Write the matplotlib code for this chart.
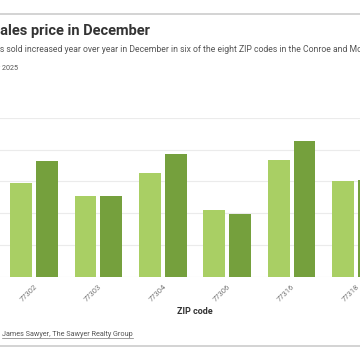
import matplotlib.pyplot as plt
from matplotlib.lines import Line2D
import numpy as np

# данные (медианная цена продажи, $)
zips = ["77302", "77303", "77304", "77306", "77316", "77318"]
price_2024 = [295000, 254000, 327000, 209000, 366000, 300000]
price_2025 = [365000, 253000, 387000, 198000, 428000, 305000]

light = "#a9cf64"
dark = "#75a03d"

plt.rcParams['font.family'] = ['Roboto', 'DejaVu Sans']

fig = plt.figure(figsize=(3.6, 3.6), dpi=100)
W, H = 360, 360

def fx(px):
    return px / W

def fy(py):
    return 1 - py / H

renderer = fig.canvas.get_renderer()

def text_width(s, **kw):
    """Ширина текста в пикселях"""
    t = fig.text(0, 0, s, **kw)
    w = t.get_window_extent(renderer).width
    t.remove()
    return w

# оси шире картинки: видна только часть графика
left, right = -62.6, 452.6
ax = fig.add_axes([fx(left), fy(276.5), fx(right - left), fy(118) - fy(276.5)])

x = np.arange(len(zips))
bw = 0.34
ax.bar(x - 0.2, price_2024, width=bw, color=light, zorder=2)
ax.bar(x + 0.2, price_2025, width=bw, color=dark, zorder=2)

ax.set_xlim(-1.5, 6.5)
ax.set_ylim(0, 500000)
ax.set_yticks(np.arange(0, 500001, 100000))
ax.yaxis.grid(True, color="#ebebeb", linewidth=0.8, zorder=0)
ax.set_yticklabels([])
ax.tick_params(axis="both", length=0)
for s in ax.spines.values():
    s.set_visible(False)

ax.set_xticks(x)
ax.set_xticklabels(zips, rotation=45, ha="right", rotation_mode="anchor",
                   fontsize=5.5, color="#777777")
ax.tick_params(axis="x", pad=5)
ax.set_xlabel("ZIP code", fontsize=6.5, fontweight="bold", color="#333333", labelpad=3)

# заголовок: "ales" начинается у левого края
title_kw = dict(fontsize=10.5, fontweight="bold")
tw = text_width("Median s", **title_kw)
fig.text(fx(-tw), fy(31), "Median sales price in December", ha="left", va="center",
         color="#333333", **title_kw)

# подзаголовок: "s sold" начинается у левого края
sub = ("The median price of homes sold increased year over year in December in six of "
       "the eight ZIP codes in the Conroe and Montgomery areas.")
pw = text_width("The median price of home", fontsize=6.2)
fig.text(fx(-pw), fy(50), sub, ha="left", va="center", fontsize=6.2, color="#555555")

fig.text(fx(18), fy(68), "December 2025", ha="right", va="center",
         fontsize=5.2, color="#555555")

# источник
src = fig.text(fx(2), fy(334), "James Sawyer, The Sawyer Realty Group", ha="left",
               va="center", fontsize=5.2, color="#555555")
sw = src.get_window_extent(renderer).width
fig.add_artist(Line2D([fx(2), fx(2 + sw)], [fy(338), fy(338)],
                      transform=fig.transFigure, color="#777777", linewidth=0.5))

# линии сверху и снизу
fig.add_artist(Line2D([0, 1], [fy(14), fy(14)], transform=fig.transFigure,
                      color="#cccccc", linewidth=1.2))
fig.add_artist(Line2D([0, 1], [fy(346), fy(346)], transform=fig.transFigure,
                      color="#cccccc", linewidth=1.2))

fig.savefig("out.png", dpi=100)
